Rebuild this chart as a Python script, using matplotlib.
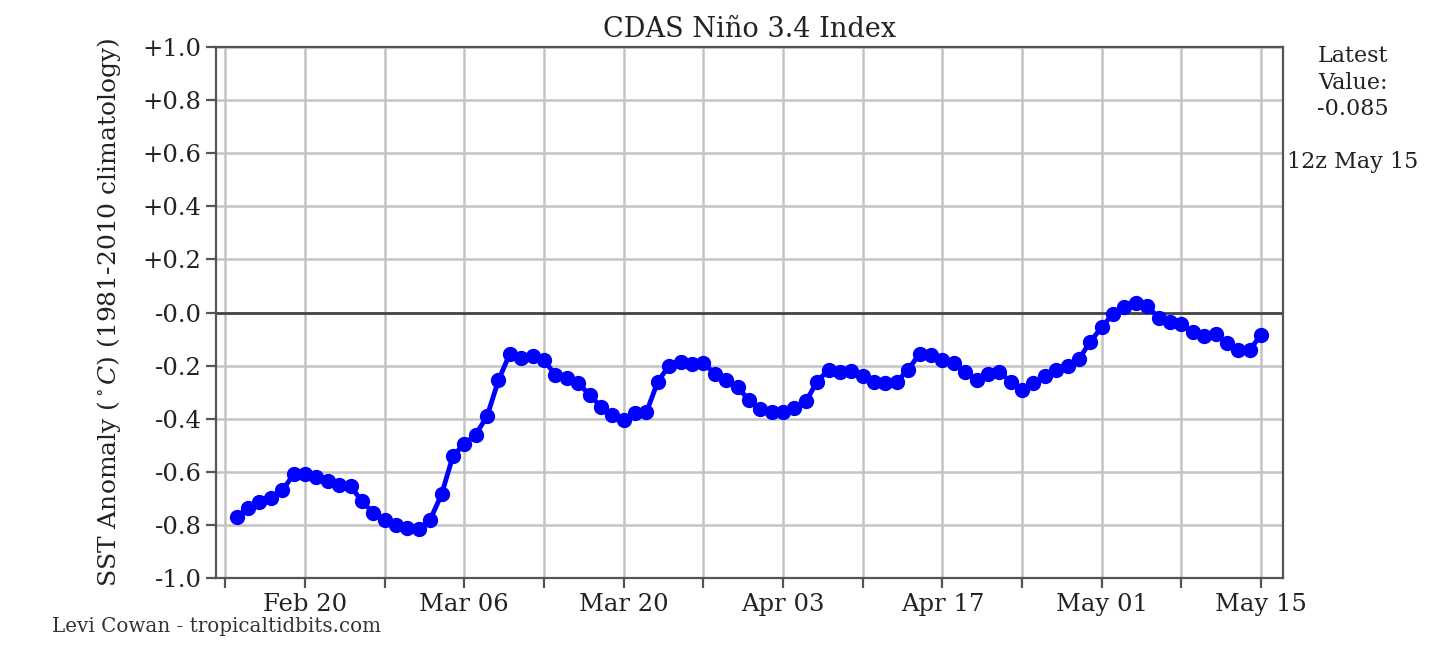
import datetime as dt
import numpy as np
import matplotlib
matplotlib.use("Agg")
import matplotlib.pyplot as plt
import matplotlib.dates as mdates

# daily values, Feb 14 - May 15
start = dt.datetime(2025, 2, 14)
anom = [
    -0.77, -0.735, -0.715, -0.70, -0.67, -0.61, -0.61, -0.62, -0.635, -0.65,
    -0.655, -0.71, -0.755, -0.78, -0.80,                       # Feb 14-28
    -0.81, -0.815, -0.78, -0.685, -0.54, -0.495, -0.46, -0.39, -0.255, -0.155,
    -0.17, -0.165, -0.18, -0.235, -0.245, -0.265, -0.31, -0.355, -0.385, -0.405,
    -0.38, -0.375, -0.26, -0.20, -0.185, -0.195, -0.19, -0.23, -0.255, -0.28,
    -0.33,                                                      # Mar
    -0.365, -0.375, -0.375, -0.36, -0.335, -0.26, -0.215, -0.225, -0.22, -0.24,
    -0.26, -0.265, -0.26, -0.215, -0.155, -0.16, -0.18, -0.19, -0.225, -0.255,
    -0.23, -0.225, -0.26, -0.29, -0.265, -0.24, -0.215, -0.20, -0.175, -0.11,  # Apr
    -0.055, -0.005, 0.02, 0.035, 0.025, -0.02, -0.035, -0.045, -0.075, -0.09,
    -0.08, -0.115, -0.14, -0.14, -0.085,                        # May 1-15
]
dates = [start + dt.timedelta(days=i) for i in range(len(anom))]

ytick_vals = [-1.0, -0.8, -0.6, -0.4, -0.2, 0.0, 0.2, 0.4, 0.6, 0.8, 1.0]
ytick_labels = ["-1.0", "-0.8", "-0.6", "-0.4", "-0.2", "-0.0",
                "+0.2", "+0.4", "+0.6", "+0.8", "+1.0"]
xtick_dates = [dt.datetime(2025, 2, 13) + dt.timedelta(days=7 * i) for i in range(14)]
xtick_labels = ["", "Feb 20", "", "Mar 06", "", "Mar 20", "", "Apr 03",
                "", "Apr 17", "", "May 01", "", "May 15"]

plt.rcParams['font.family'] = ['DejaVu Serif']
plt.rcParams['mathtext.fontset'] = 'dejavuserif'

fig = plt.figure(figsize=(14.4, 6.47), dpi=100)
ax = fig.add_axes([0.15, 0.1066, 0.741, 0.8208])

ax.grid(True, color='#c4c4c4', lw=1.8)
ax.axhline(0, color='#444444', lw=2, zorder=2)
ax.plot(dates, anom, color='#0000ff', lw=3.5, marker='o', ms=10, zorder=3)

ax.set_ylim(-1.0, 1.0)
ax.set_yticks(ytick_vals)
ax.set_yticklabels(ytick_labels)
ax.set_xticks(xtick_dates)
ax.set_xticklabels(xtick_labels)
ax.set_xlim(dt.datetime(2025, 2, 12, 4, 20), dt.datetime(2025, 5, 16, 22, 20))

for s in ax.spines.values():
    s.set_color('#555555')
    s.set_linewidth(1.6)
ax.tick_params(axis='both', labelsize=17.5, length=7, width=1.6, color='#555555',
               labelcolor='#222222')

ax.set_title("CDAS Niño 3.4 Index", fontsize=19.5, color='#222222', pad=7)
ax.set_ylabel(r"SST Anomaly ($^\circ C$) (1981-2010 climatology)", fontsize=18,
              color='#222222', labelpad=14)

fig.text(0.9396, 0.93, "Latest\nValue:\n%.3f" % anom[-1], ha='center', va='top',
         fontsize=16, color='#222222', linespacing=1.25)
fig.text(0.9396, 0.75, "12z May 15", ha='center', va='center', fontsize=16,
         color='#222222')
fig.text(0.036, 0.032, "Levi Cowan - tropicaltidbits.com", ha='left', va='center',
         fontsize=14.3, color='#333333')

fig.savefig("out.png", dpi=100)
